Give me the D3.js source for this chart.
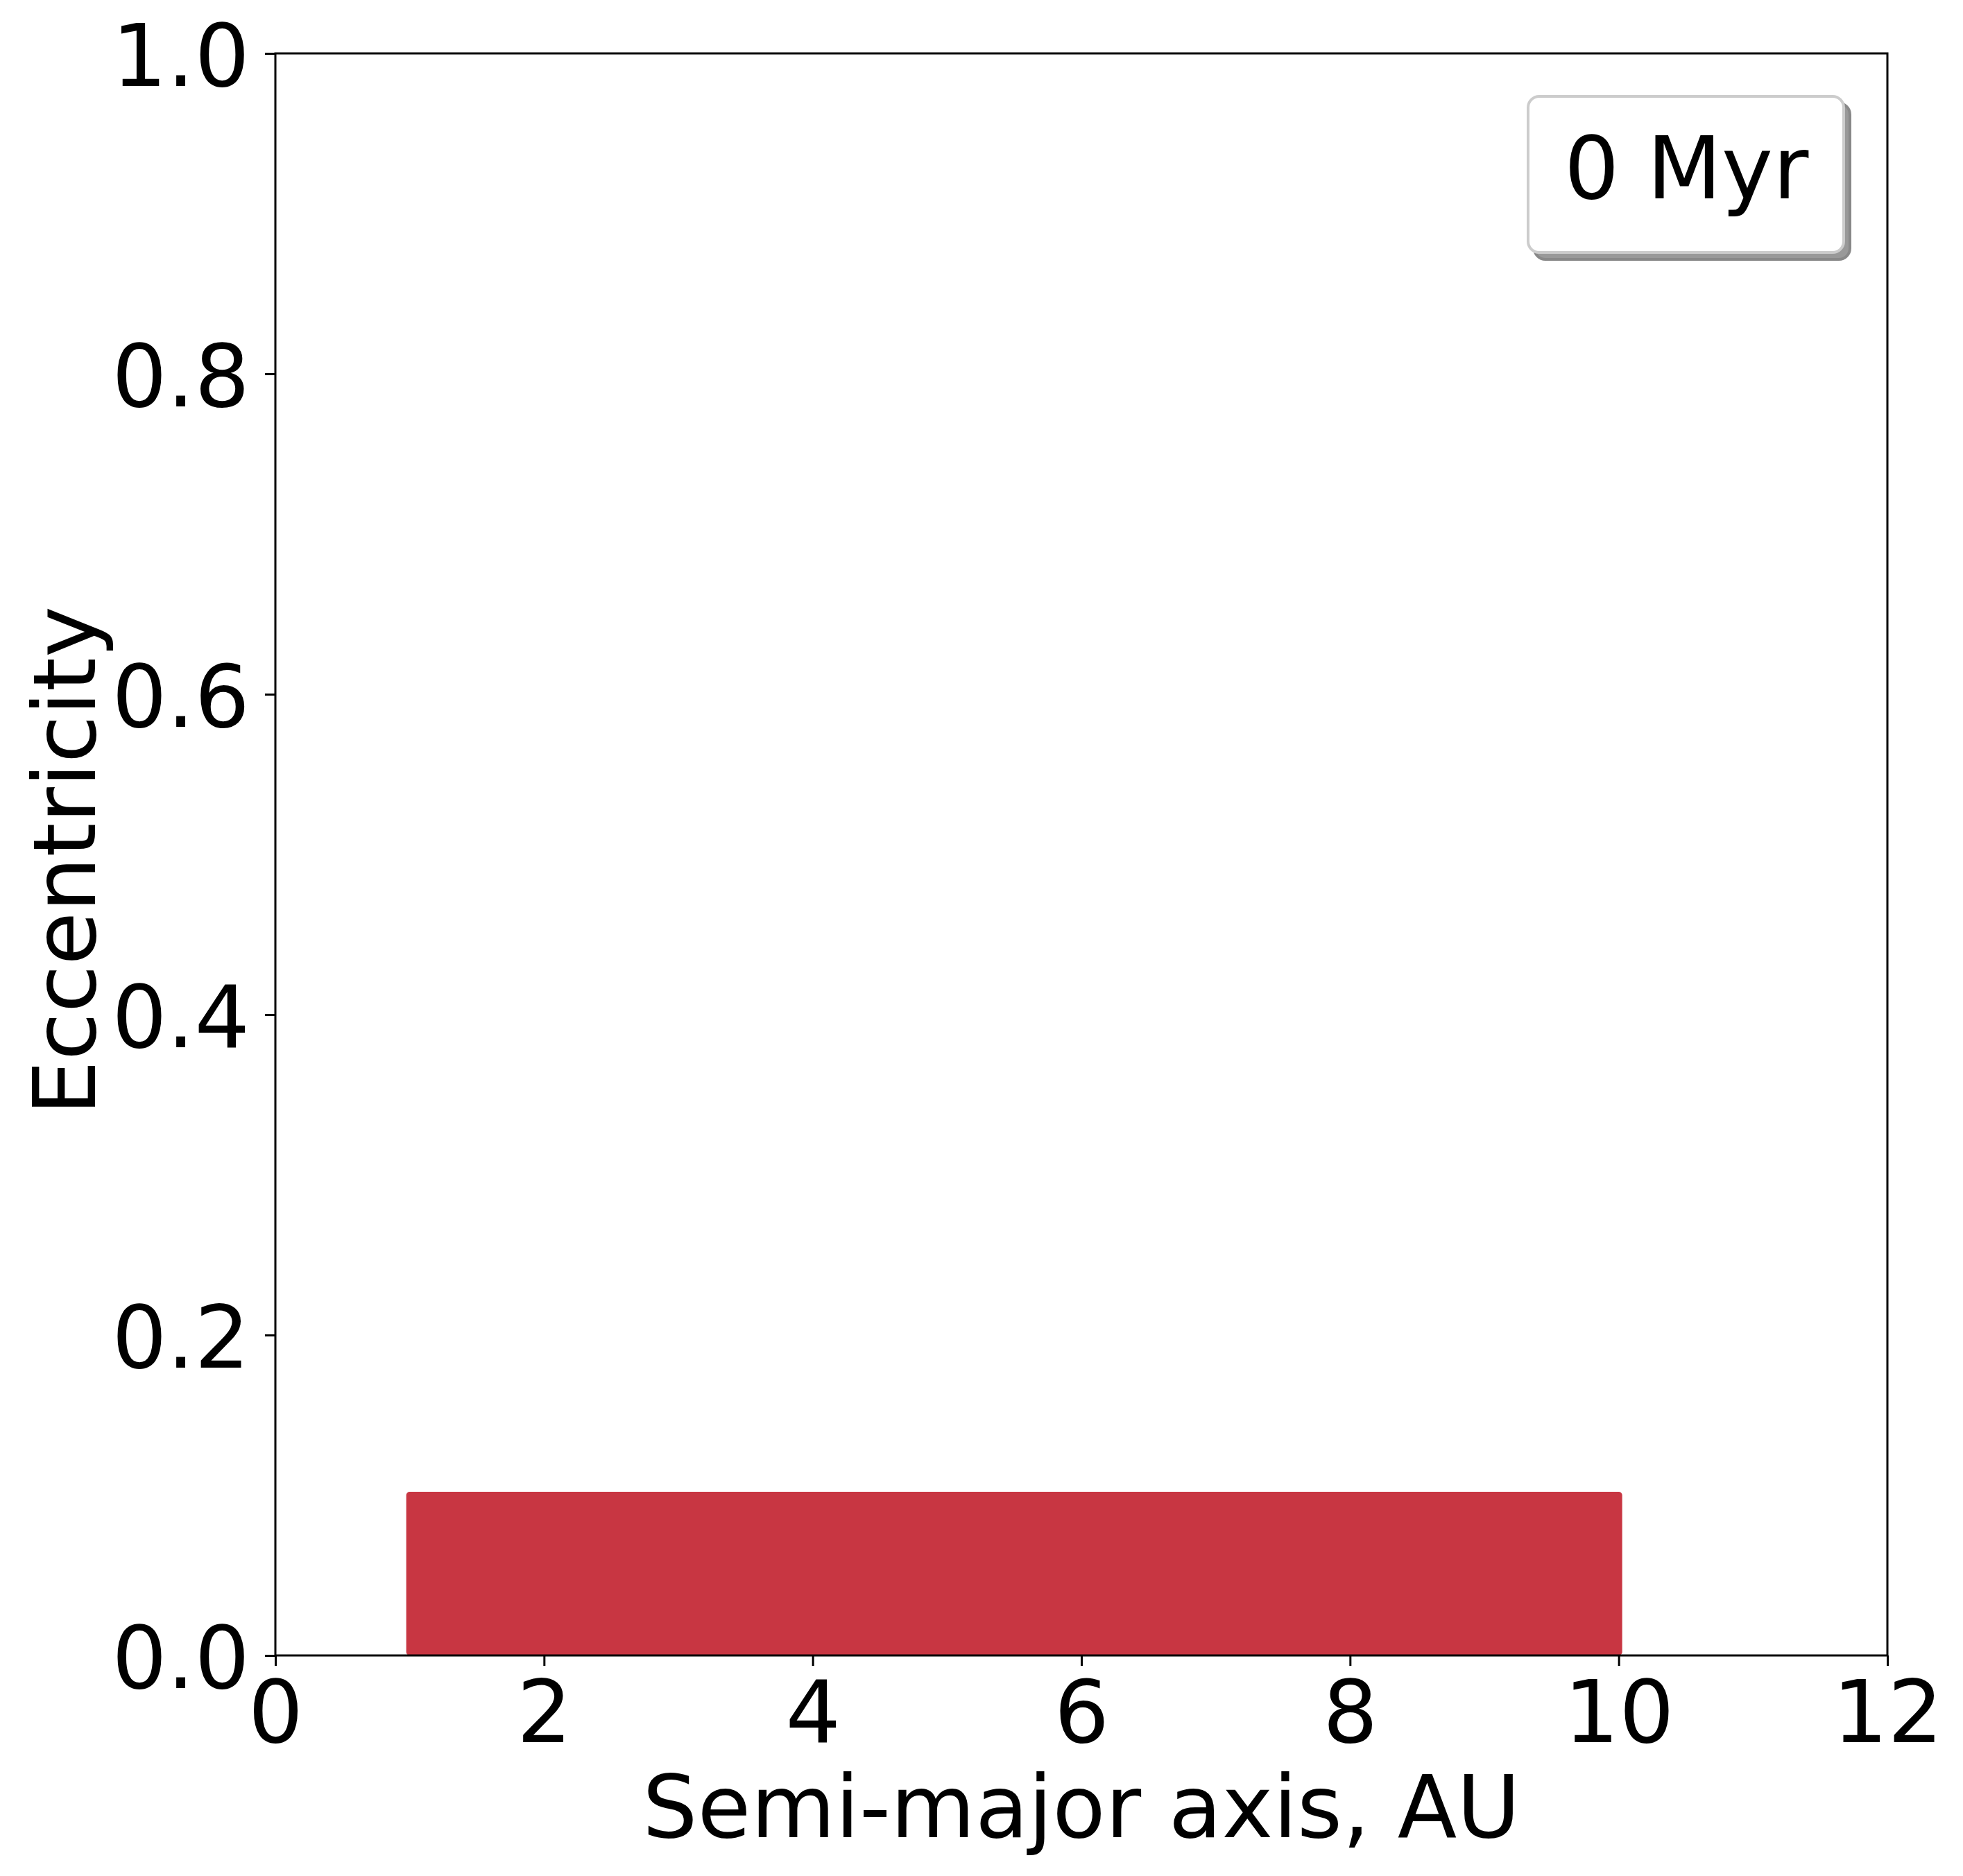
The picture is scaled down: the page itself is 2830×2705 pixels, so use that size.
<!DOCTYPE html>
<html>
<head>
<meta charset="utf-8">
<script src="https://cdn.jsdelivr.net/npm/d3@7"></script>
<style>
  html, body { margin: 0; padding: 0; background: #fff; }
  svg text { font-family: "DejaVu Sans", sans-serif; fill: #000; }
</style>
</head>
<body>
<svg id="chart" width="2830" height="2705"></svg>
<script>
// ---- data ----
const xTicks = [0, 2, 4, 6, 8, 10, 12];
const yTicks = [0.0, 0.2, 0.4, 0.6, 0.8, 1.0];
const xDomain = [0, 12];
const yDomain = [0, 1];
// initial particle population: uniformly filling a in [1,10] AU, e in [0,0.1]
const aRange = [1, 10];
const eRange = [0, 0.1];
const legendLabel = "0 Myr";
const xLabel = "Semi-major axis, AU";
const yLabel = "Eccentricity";

// ---- layout ----
const L = 397, R = 2721, T = 77, B = 2387;
const fs = 125;
const svg = d3.select("#chart");
const x = d3.scaleLinear().domain(xDomain).range([L, R]);
const y = d3.scaleLinear().domain(yDomain).range([B, T]);

// population block
const mr = 5;
svg.append("rect")
  .attr("x", x(aRange[0]) - mr)
  .attr("y", y(eRange[1]) - mr)
  .attr("width", x(aRange[1]) - x(aRange[0]) + 2 * mr)
  .attr("height", y(eRange[0]) - y(eRange[1]) + mr)
  .attr("rx", mr).attr("ry", mr)
  .attr("fill", "#c83642");

// axes
const xAxis = svg.append("g").attr("transform", `translate(0,${B})`)
  .call(d3.axisBottom(x).tickValues(xTicks).tickFormat(d3.format("d")).tickSize(15).tickPadding(0));
const yAxis = svg.append("g").attr("transform", `translate(${L},0)`)
  .call(d3.axisLeft(y).tickValues(yTicks).tickFormat(d3.format(".1f")).tickSize(15).tickPadding(0));
[xAxis, yAxis].forEach(g => {
  g.select(".domain").remove();
  g.selectAll(".tick line").attr("stroke", "#000").attr("stroke-width", 3);
  g.selectAll(".tick text").style("font-size", fs + "px").style("font-family", "DejaVu Sans").attr("fill", "#000");
});
xAxis.selectAll(".tick text").attr("y", 125).attr("dy", null).attr("dominant-baseline", "auto");
yAxis.selectAll(".tick text").attr("x", -37).attr("dy", null).attr("y", 46).attr("dominant-baseline", "auto");

// frame
svg.append("rect").attr("x", L).attr("y", T).attr("width", R - L).attr("height", B - T)
  .attr("fill", "none").attr("stroke", "#000").attr("stroke-width", 3);

// axis labels
svg.append("text").attr("x", (L + R) / 2).attr("y", 2649).attr("text-anchor", "middle")
  .style("font-size", fs + "px").text(xLabel);
svg.append("text").attr("transform", `translate(137,1241) rotate(-90)`)
  .attr("text-anchor", "middle").style("font-size", fs + "px").text(yLabel);

// legend with shadow
const lx = 2203, ly = 139, lw = 455, lh = 225;
svg.append("rect").attr("x", lx + 9).attr("y", ly + 10).attr("width", lw).attr("height", lh)
  .attr("rx", 16).attr("fill", "#999").attr("stroke", "#888").attr("stroke-width", 4);
svg.append("rect").attr("x", lx).attr("y", ly).attr("width", lw).attr("height", lh)
  .attr("rx", 16).attr("fill", "#fff").attr("stroke", "#cccccc").attr("stroke-width", 4);
svg.append("text").attr("x", 2255).attr("y", 286).style("font-size", fs + "px").text(legendLabel);
</script>
</body>
</html>
